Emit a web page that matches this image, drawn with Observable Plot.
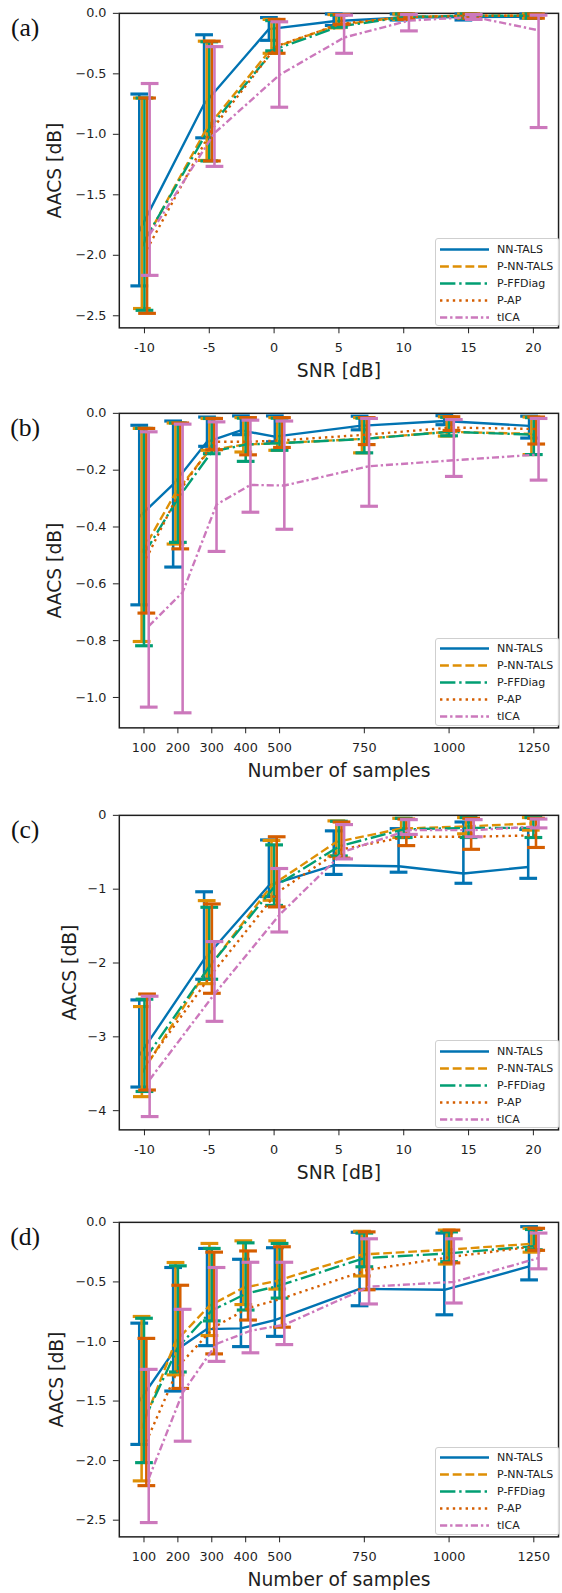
<!DOCTYPE html>
<html><head><meta charset="utf-8">
<script src="https://cdn.jsdelivr.net/npm/d3@7"></script>
<script src="https://cdn.jsdelivr.net/npm/@observablehq/plot@0.6"></script>
<style>
html,body{margin:0;padding:0;background:#fff;width:562px;height:1593px;overflow:hidden;}
#root{position:relative;width:562px;height:1593px;overflow:hidden;background:#fff;}
.panel{position:absolute;left:0;}
.legend{position:absolute;border:1px solid #cfcfcf;border-radius:3px;background:rgba(255,255,255,0.85);font-family:"DejaVu Sans";font-size:11px;color:#222;box-sizing:border-box;}
.row{position:absolute;left:0;height:17px;line-height:17px;width:100%;white-space:nowrap;}
.row svg{position:absolute;left:4px;top:0;}
.row span{position:absolute;left:61px;top:0;}
</style>
</head><body><div id="root"></div>
<script>
// ---- data ----
const seriesNames = ["NN-TALS", "P-NN-TALS", "P-FFDiag", "P-AP", "tICA"];
const seriesColors = ["#0173B2", "#DE8F05", "#029E73", "#D55E00", "#CC78BC"];
const seriesDashes = ["none", "8.9,3.8", "15.4,3.8,2.4,3.8", "2.4,4", "7.2,2.9,2.4,2.9"];

const snrValues = [-10, -5, 0, 5, 10, 15, 20];
const snrTickLabels = ["-10", "-5", "0", "5", "10", "15", "20"];
const snrOffsets = [-0.4, -0.2, 0, 0.2, 0.4];

const sampleValues = [100, 200, 300, 400, 500, 750, 1000, 1250];
const sampleTickLabels = ["100", "200", "300", "400", "500", "750", "1000", "1250"];
const sampleOffsets = [-14, -7, 0, 7, 14];

// panel (a): AACS vs SNR
const aMean = [
  [-1.80, -0.75, -0.13, -0.065, -0.035, -0.03, -0.028],
  [-1.93, -0.95, -0.29, -0.10, -0.03, -0.02, -0.02],
  [-1.88, -0.95, -0.30, -0.11, -0.03, -0.02, -0.02],
  [-1.95, -0.96, -0.27, -0.085, -0.03, -0.02, -0.02],
  [-1.83, -0.99, -0.51, -0.20, -0.06, -0.03, -0.14]
];
const aHi = [
  [-0.667, -0.177, -0.035, -0.005, -0.005, -0.005, -0.005],
  [-0.70, -0.23, -0.05, -0.01, -0.005, -0.005, -0.005],
  [-0.70, -0.235, -0.06, -0.015, -0.005, -0.005, -0.005],
  [-0.70, -0.23, -0.05, -0.01, -0.005, -0.005, -0.005],
  [-0.58, -0.275, -0.07, -0.015, -0.01, -0.01, -0.015]
];
const aLo = [
  [-2.253, -1.029, -0.223, -0.10, -0.055, -0.055, -0.04],
  [-2.44, -1.216, -0.33, -0.12, -0.05, -0.04, -0.04],
  [-2.455, -1.22, -0.31, -0.115, -0.05, -0.04, -0.04],
  [-2.48, -1.22, -0.33, -0.09, -0.05, -0.04, -0.04],
  [-2.166, -1.265, -0.776, -0.33, -0.145, -0.05, -0.944]
];
// panel (b): AACS vs number of samples
const bMean = [
  [-0.364, -0.25, -0.10, -0.06, -0.082, -0.044, -0.027, -0.044],
  [-0.49, -0.28, -0.13, -0.11, -0.105, -0.09, -0.065, -0.072],
  [-0.495, -0.30, -0.135, -0.11, -0.105, -0.09, -0.065, -0.075],
  [-0.51, -0.27, -0.10, -0.10, -0.095, -0.075, -0.05, -0.055],
  [-0.749, -0.63, -0.321, -0.252, -0.254, -0.186, -0.165, -0.145]
];
const bHi = [
  [-0.042, -0.027, -0.013, -0.009, -0.009, -0.01, -0.008, -0.01],
  [-0.053, -0.034, -0.018, -0.015, -0.015, -0.015, -0.012, -0.013],
  [-0.053, -0.034, -0.018, -0.017, -0.017, -0.017, -0.014, -0.015],
  [-0.053, -0.034, -0.018, -0.015, -0.015, -0.015, -0.012, -0.013],
  [-0.065, -0.038, -0.03, -0.024, -0.027, -0.018, -0.022, -0.018]
];
const bLo = [
  [-0.674, -0.541, -0.116, -0.075, -0.10, -0.058, -0.04, -0.087],
  [-0.803, -0.46, -0.13, -0.136, -0.13, -0.139, -0.08, -0.145],
  [-0.818, -0.454, -0.142, -0.169, -0.13, -0.139, -0.079, -0.145],
  [-0.703, -0.477, -0.128, -0.146, -0.12, -0.11, -0.06, -0.108],
  [-1.034, -1.054, -0.486, -0.348, -0.408, -0.327, -0.222, -0.235]
];
// panel (c): AACS vs SNR
const cMean = [
  [-3.25, -1.95, -0.95, -0.676, -0.69, -0.787, -0.70],
  [-3.49, -2.10, -0.95, -0.36, -0.18, -0.15, -0.11],
  [-3.31, -2.05, -0.97, -0.42, -0.19, -0.17, -0.17],
  [-3.36, -2.15, -1.05, -0.46, -0.29, -0.29, -0.27],
  [-3.58, -2.42, -1.35, -0.49, -0.20, -0.20, -0.15]
];
const cHi = [
  [-2.50, -1.035, -0.333, -0.21, -0.18, -0.09, -0.19],
  [-2.59, -1.155, -0.34, -0.075, -0.04, -0.03, -0.03],
  [-2.49, -1.245, -0.40, -0.08, -0.04, -0.03, -0.03],
  [-2.42, -1.20, -0.29, -0.09, -0.05, -0.04, -0.04],
  [-2.45, -1.71, -0.72, -0.125, -0.058, -0.058, -0.05]
];
const cLo = [
  [-3.68, -2.22, -1.10, -0.80, -0.77, -0.92, -0.853],
  [-3.81, -2.28, -1.15, -0.55, -0.30, -0.25, -0.20],
  [-3.74, -2.22, -1.22, -0.55, -0.30, -0.30, -0.30],
  [-3.72, -2.41, -1.24, -0.58, -0.41, -0.46, -0.435],
  [-4.08, -2.79, -1.58, -0.59, -0.258, -0.29, -0.17]
];
// panel (d): AACS vs number of samples
const dMean = [
  [-1.50, -1.09, -0.896, -0.89, -0.82, -0.558, -0.566, -0.37],
  [-1.73, -1.00, -0.70, -0.55, -0.49, -0.27, -0.23, -0.18],
  [-1.66, -1.05, -0.74, -0.60, -0.53, -0.30, -0.26, -0.20],
  [-1.84, -1.19, -0.88, -0.72, -0.64, -0.40, -0.29, -0.20],
  [-2.15, -1.43, -1.02, -0.91, -0.86, -0.54, -0.50, -0.30]
];
const dHi = [
  [-0.846, -0.379, -0.219, -0.31, -0.213, -0.083, -0.09, -0.036],
  [-0.79, -0.337, -0.177, -0.155, -0.155, -0.075, -0.065, -0.05],
  [-0.805, -0.365, -0.219, -0.172, -0.177, -0.09, -0.08, -0.06],
  [-0.974, -0.528, -0.25, -0.24, -0.205, -0.08, -0.065, -0.05],
  [-1.234, -0.73, -0.379, -0.335, -0.335, -0.138, -0.138, -0.09]
];
const dLo = [
  [-1.864, -1.416, -1.035, -1.043, -0.957, -0.70, -0.776, -0.483],
  [-2.17, -1.28, -0.95, -0.69, -0.56, -0.45, -0.35, -0.25],
  [-2.017, -1.256, -0.827, -0.736, -0.636, -0.373, -0.33, -0.23],
  [-2.21, -1.394, -1.104, -0.82, -0.88, -0.566, -0.34, -0.235],
  [-2.52, -1.837, -1.167, -1.095, -1.026, -0.685, -0.677, -0.39]
];

const aTicksY = [0, -0.5, -1.0, -1.5, -2.0, -2.5];
const bTicksY = [0, -0.2, -0.4, -0.6, -0.8, -1.0];
const cTicksY = [0, -1, -2, -3, -4];
const dTicksY = [0, -0.5, -1.0, -1.5, -2.0, -2.5];

// ---- drawing ----
const W = 570, ML = 120.5, MR = 4, MT = 10, MB = 62, FH = 319;
const capSymbol = {draw(ctx, size) { const r = Math.sqrt(size / Math.PI); ctx.moveTo(-r, 0); ctx.lineTo(r, 0); }};
const root = document.getElementById("root");

function drawPanel(p) {
  const marks = [Plot.frame({stroke: "#1e1e1e", strokeWidth: 1.5})];
  seriesNames.forEach((name, s) => {
    const d = p.xs.map((xv, i) => ({x: xv + p.offsets[s], mean: p.mean[s][i], lo: p.lo[s][i], hi: p.hi[s][i]}));
    marks.push(Plot.line(d, {x: "x", y: "mean", stroke: seriesColors[s], strokeWidth: 2.4, strokeDasharray: seriesDashes[s], strokeLinecap: "butt"}));
    marks.push(Plot.ruleX(d, {x: "x", y1: "lo", y2: "hi", stroke: seriesColors[s], strokeWidth: 2.6}));
    marks.push(Plot.dot(d, {x: "x", y: "lo", symbol: capSymbol, r: 9, stroke: seriesColors[s], strokeWidth: 3.2, fill: "none"}));
    marks.push(Plot.dot(d, {x: "x", y: "hi", symbol: capSymbol, r: 9, stroke: seriesColors[s], strokeWidth: 3.2, fill: "none"}));
  });
  marks.push(Plot.text([p.xTitle], {text: d => d, frameAnchor: "bottom", dy: 44, fontSize: 19, lineAnchor: "middle", fill: "#1e1e1e"}));
  marks.push(Plot.text(["AACS [dB]"], {text: d => d, frameAnchor: "left", dx: p.yTitleDx, rotate: -90, fontSize: 19, lineAnchor: "middle", textAnchor: "middle", fill: "#1e1e1e"}));
  marks.push(Plot.text([p.tag], {text: d => d, frameAnchor: "top-left", dx: -95.5, dy: 15, fontSize: 26, fontFamily: "Liberation Serif", textAnchor: "middle", lineAnchor: "middle", fill: "#111"}));

  const svg = Plot.plot({
    width: W, height: MT + FH + MB,
    marginLeft: ML, marginRight: MR, marginTop: MT, marginBottom: MB,
    style: {fontFamily: "DejaVu Sans", fontSize: "13px", color: "#1e1e1e", background: "white", overflow: "visible"},
    x: {domain: p.xDomain, ticks: p.xs, tickFormat: d => p.xLabels[p.xs.indexOf(d)], tickSize: 6, tickPadding: 9, label: null},
    y: {domain: p.yDomain, ticks: p.yTicks, tickFormat: p.yFormat, tickSize: 6, tickPadding: 7, label: null},
    marks
  });
  const wrap = document.createElement("div");
  wrap.className = "panel";
  wrap.style.top = (p.top - MT) + "px";
  wrap.appendChild(svg);
  root.appendChild(wrap);

  // legend
  const lg = document.createElement("div");
  lg.className = "legend";
  const lgH = 88;
  lg.style.left = "435px";
  lg.style.width = "124.5px";
  lg.style.height = lgH + "px";
  lg.style.top = (p.top + FH - 6 - lgH) + "px";
  seriesNames.forEach((name, s) => {
    const row = document.createElement("div");
    row.className = "row";
    row.style.top = (1.5 + s * 17) + "px";
    const dash = seriesDashes[s] === "none" ? "" : `stroke-dasharray="${seriesDashes[s]}"`;
    row.innerHTML = `<svg width="49" height="17"><line x1="0" x2="49" y1="8.5" y2="8.5" stroke="${seriesColors[s]}" stroke-width="2.4" ${dash}/></svg><span>${name}</span>`;
    lg.appendChild(row);
  });
  root.appendChild(lg);
}

drawPanel({tag: "(a)", top: 13.3, xs: snrValues, xLabels: snrTickLabels, offsets: snrOffsets, xDomain: [-11.94, 21.94],
  yDomain: [-2.6, 0], yTicks: aTicksY, yFormat: d3.format(".1f"), mean: aMean, lo: aLo, hi: aHi, xTitle: "SNR [dB]", yTitleDx: -65});
drawPanel({tag: "(b)", top: 412.5, xs: sampleValues, xLabels: sampleTickLabels, offsets: sampleOffsets, xDomain: [27.2, 1322.9],
  yDomain: [-1.107, 0], yTicks: bTicksY, yFormat: d3.format(".1f"), mean: bMean, lo: bLo, hi: bHi, xTitle: "Number of samples", yTitleDx: -65});
drawPanel({tag: "(c)", top: 815, xs: snrValues, xLabels: snrTickLabels, offsets: snrOffsets, xDomain: [-11.94, 21.94],
  yDomain: [-4.26, 0], yTicks: cTicksY, yFormat: d3.format("d"), mean: cMean, lo: cLo, hi: cHi, xTitle: "SNR [dB]", yTitleDx: -50.5});
drawPanel({tag: "(d)", top: 1221.7, xs: sampleValues, xLabels: sampleTickLabels, offsets: sampleOffsets, xDomain: [27.2, 1322.9],
  yDomain: [-2.64, 0], yTicks: dTicksY, yFormat: d3.format(".1f"), mean: dMean, lo: dLo, hi: dHi, xTitle: "Number of samples", yTitleDx: -63.5});
</script></body></html>
